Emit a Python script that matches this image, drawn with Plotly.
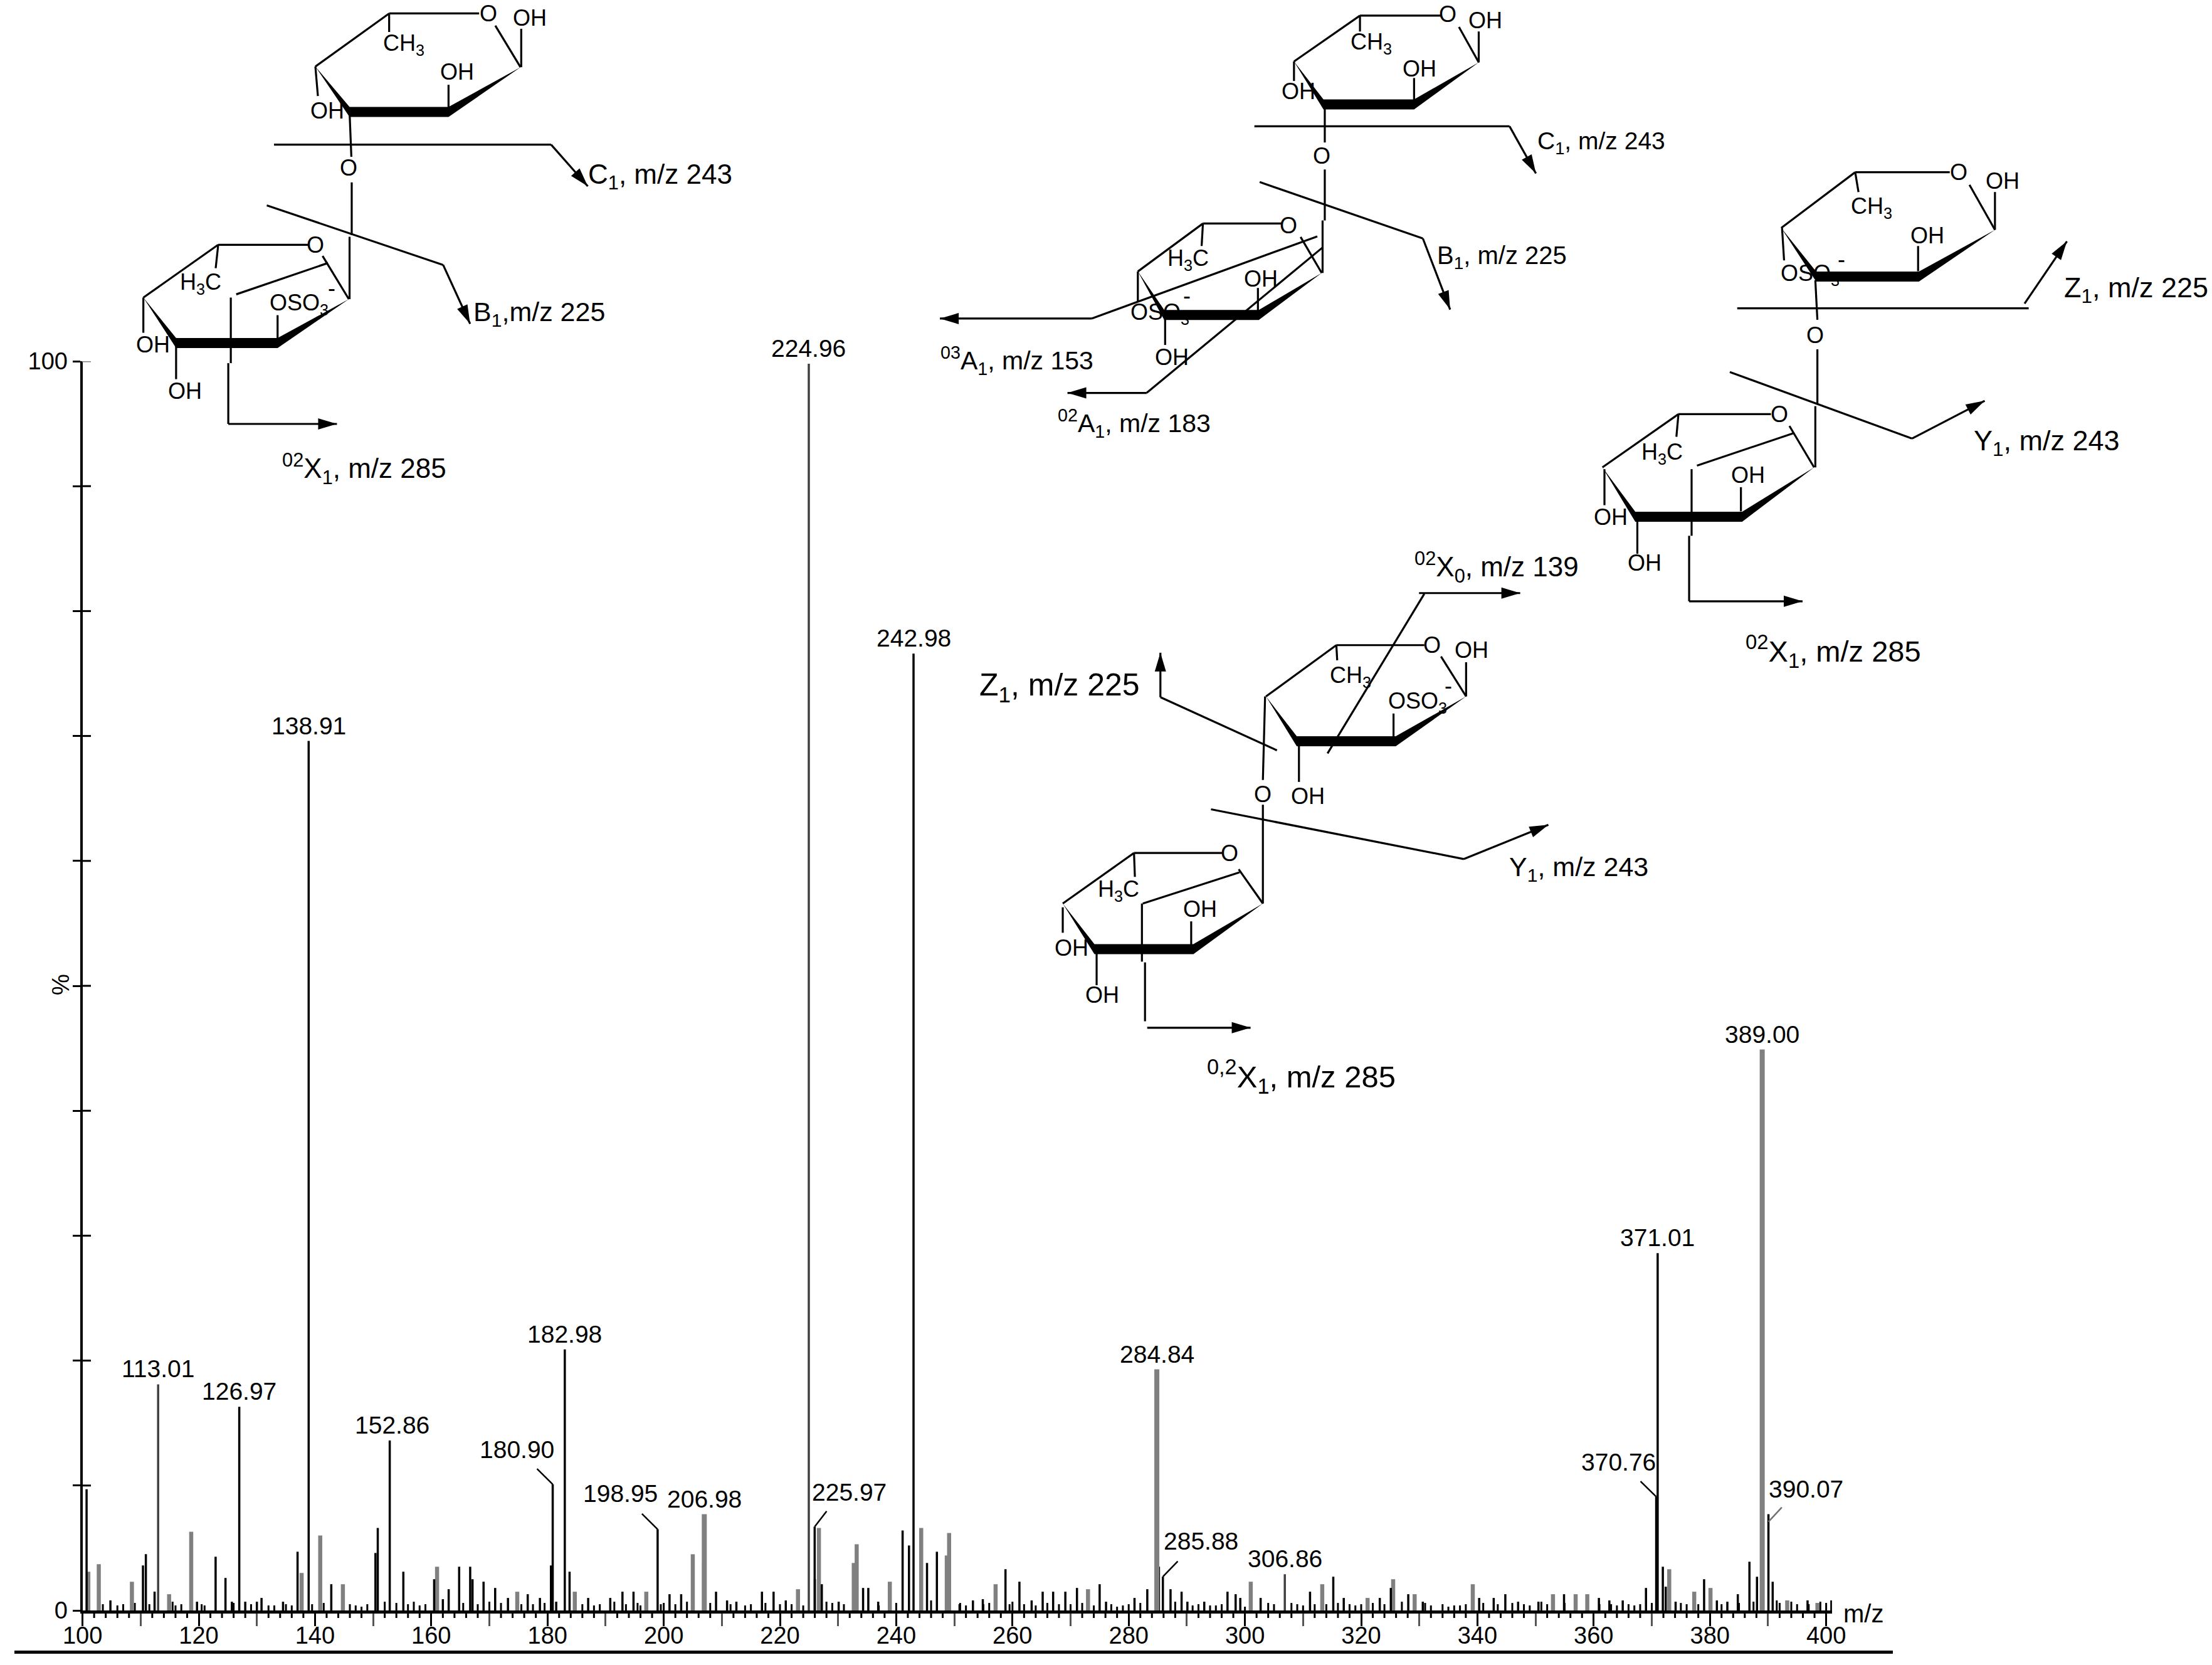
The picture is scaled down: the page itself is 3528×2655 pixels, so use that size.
import plotly.graph_objects as go

W, H = 3528, 2655
FONT = "Liberation Sans"

# ---------- data ----------
labelled_mz  = [113.01, 126.97, 138.91, 152.86, 180.90, 182.98, 198.95, 206.98, 224.96, 225.97,
                242.98, 284.84, 285.88, 306.86, 370.76, 371.01, 389.00, 390.07]
labelled_pct = [18.1, 16.3, 69.6, 13.6, 10.1, 20.9, 6.5, 7.7, 99.8, 6.7,
                76.6, 19.3, 2.7, 2.9, 9.1, 28.6, 44.9, 7.7]
labelled_grey = [113.01, 206.98, 224.96, 284.84, 389.00, 306.86]

black_mz = [100.7, 104.8, 110.4, 110.9, 112.4, 119.7, 122.9, 124.6, 125.7, 128, 130, 130.8, 134.5, 137,
            142.8, 150.4, 150.8, 155.2, 160.5, 162, 163, 164.8, 166.7, 167.1, 169, 171, 173.2, 176.6,
            178.7, 180.6, 181.5, 183.8, 187, 190.8, 192.9, 194.8, 201, 203, 206.8, 209, 210.9, 212.5,
            216.9, 218.9, 221, 226, 227.2, 230.1, 234.3, 235.2, 236.9, 241.1, 242.2, 245.3, 247,
            250.9, 253.2, 254.9, 258.8, 261.2, 263.3, 265.2, 267, 269.1, 271.1, 275, 276.1, 281, 283.2,
            285.2, 287.2, 289.1, 290.1, 293, 297, 298.4, 299.2, 302.7, 311.2, 315.2, 317, 323.2,
            325.1, 328.1, 330.6, 340.3, 342.8, 344.8, 347, 350.5, 354.9, 360.9, 362.7, 365, 369,
            371.9, 372.4, 374.1, 379, 381.2, 383, 384.8, 386.8, 388.1, 390.8, 396.8, 400.9]
black_pct = [9.7, 0.8, 3.6, 4.5, 1.5, 0.7, 4.3, 2.6, 0.7, 0.7, 0.7, 1.0, 0.7, 4.7,
             2.1, 4.6, 6.6, 3.1, 2.5, 0.9, 1.7, 3.5, 3.5, 2.5, 2.3, 1.8, 1.0, 1.3,
             1.0, 3.6, 0.7, 3.1, 1.0, 1.0, 1.5, 1.5, 1.3, 1.3, 3.9, 1.5, 0.8, 0.7,
             1.5, 1.5, 0.8, 2.5, 2.1, 0.7, 1.8, 1.8, 0.7, 6.4, 5.2, 3.8, 4.7,
             0.5, 0.8, 0.9, 3.3, 2.3, 0.8, 1.5, 1.5, 1.5, 1.8, 2.1, 0.7, 1.0, 1.7,
             3.5, 1.7, 1.5, 0.7, 0.7, 1.5, 1.3, 1.0, 1.0, 1.5, 2.7, 1.0, 1.0,
             1.8, 1.3, 0.7, 1.0, 1.0, 1.3, 0.7, 0.7, 1.3, 1.0, 0.8, 0.8, 1.8,
             3.5, 1.9, 0.7, 2.5, 0.8, 0.7, 1.3, 3.9, 2.7, 2.3, 0.8, 0.8]
grey_mz  = [101, 102.8, 108.5, 114.9, 118.7, 137.7, 140.9, 144.8, 161, 174.8, 184.7, 197, 205, 226.7,
            223.1, 232.7, 233.2, 238.9, 244.3, 248.7, 249.1, 257.1, 273, 301, 313.3, 321.1, 325.5, 329.2,
            339.2, 353, 356.9, 358.9, 373, 377.3, 380.1, 393.3, 398.5]
grey_pct = [3.1, 3.7, 2.3, 1.3, 6.3, 3.0, 6.0, 2.1, 3.5, 1.5, 1.5, 1.5, 4.5, 6.6,
            1.7, 3.8, 5.3, 2.3, 6.6, 4.4, 6.2, 2.1, 1.7, 2.3, 2.1, 1.0, 2.5, 1.3,
            2.1, 1.3, 1.3, 1.3, 3.3, 1.5, 1.8, 0.8, 0.6]
grass_mz  = [103.5, 106, 107, 109, 111.5, 115.5, 116, 117, 120.5, 121, 126, 129, 132, 133, 135, 136, 139.5, 141.5,
             146, 147, 148, 149, 152, 154, 156, 157, 158, 159, 165.5, 168, 170, 172, 175.5, 177.5, 179.5,
             186, 188, 189, 191.5, 193.5, 195.5, 196, 199.5, 200, 202, 204, 208, 211.5, 214, 215, 217.5, 220,
             222, 224, 228, 229, 231, 237, 240, 246, 251, 252, 255, 256, 259.5, 260, 262, 264, 266, 268, 270,
             272, 274, 277, 278, 279, 280, 282, 288, 291, 292, 294, 295, 296, 300, 304, 305, 308, 309, 310, 312,
             314, 316, 318, 319, 320, 322, 324, 327, 331, 332, 334, 335, 336, 337, 338, 341, 343.5, 346, 348, 349,
             351, 352, 355, 357, 359, 361, 363, 364, 366, 367, 368, 370, 375, 376, 378, 382, 385, 387.5, 391.5, 392,
             394, 395, 397, 399, 400]
grass_pct = [0.5, 0.4, 0.5, 0.6, 0.5, 0.7, 0.4, 0.5, 0.5, 0.4, 0.6, 0.5, 0.4, 0.4, 0.5, 0.4, 0.5, 0.6,
             0.5, 0.4, 0.3, 0.5, 0.7, 0.6, 0.5, 0.7, 0.4, 0.5, 0.6, 0.5, 0.7, 0.6, 0.5, 0.5, 0.6,
             0.5, 0.4, 0.5, 0.7, 0.5, 0.6, 0.4, 0.5, 0.6, 0.5, 0.7, 0.6, 0.5, 0.4, 0.5, 0.6, 0.5,
             0.5, 0.4, 0.7, 0.6, 0.5, 0.4, 0.6, 0.8, 0.6, 0.4, 0.5, 0.6, 0.5, 0.7, 0.5, 0.4, 0.6, 0.5, 0.5,
             0.6, 0.4, 0.5, 0.3, 0.4, 0.5, 0.6, 0.7, 0.4, 0.5, 0.4, 0.4, 0.5, 0.3, 0.6, 0.5, 0.6, 0.5, 0.4, 0.5,
             0.5, 0.6, 0.5, 0.4, 0.5, 0.6, 0.5, 0.7, 0.6, 0.4, 0.5, 0.3, 0.4, 0.4, 0.5, 0.6, 0.5, 0.6, 0.5, 0.4,
             0.7, 0.5, 0.6, 0.5, 0.5, 0.5, 0.5, 0.4, 0.5, 0.4, 0.5, 0.6, 0.6, 0.5, 0.5, 0.5, 0.6, 0.7, 0.8, 0.6,
             0.7, 0.5, 0.5, 0.7, 0.6]
x_tick_vals = list(range(100, 401, 20))
x_short_ticks = [v for v in range(100, 401, 2) if v % 10 != 0]
y_tick_vals = [0, 100]
y_minor_ticks = list(range(10, 101, 10))

# ---------- label placement (layout only) ----------
label_offset = {152.86: (0.4, 0), 180.90: (-6.2, 1.56), 198.95: (-6.4, 1.65), 225.97: (6.0, 1.55),
                285.88: (6.6, 1.6), 370.76: (-6.5, 1.55), 390.07: (6.5, 0.8)}
leader = {180.90: (-2.7, 1.24, 0, "black"), 198.95: (-2.7, 1.24, 0, "black"), 225.97: (2.06, 1.24, 0, "black"),
          285.88: (2.56, 1.24, 0, "black"), 370.76: (-2.7, 1.24, 0, "black"), 390.07: (2.3, 1.15, -0.6, "#707070")}

X0, PX_PER = 131.6, 9.27
Y0, Y100 = 2568, 576


def stems(mz, pct):
    xs, ys = [], []
    for m, p in zip(mz, pct):
        xs += [m, m, None]
        ys += [0, p, None]
    return xs, ys


fig = go.Figure()
for mz, pct, col, w in [(grass_mz, grass_pct, "black", 3),
                        (grey_mz, grey_pct, "#808080", 6.5),
                        (black_mz, black_pct, "black", 3.5)]:
    xs, ys = stems(mz, pct)
    fig.add_trace(go.Scatter(x=xs, y=ys, mode="lines", line=dict(color=col, width=w), hoverinfo="skip"))

main_black = [(m, p) for m, p in zip(labelled_mz, labelled_pct) if m not in labelled_grey]
for m, p in zip(labelled_mz, labelled_pct):
    if m in labelled_grey:
        wide = m in (284.84, 389.00, 206.98)
        col = "#808080" if wide else "#404040"
        fig.add_trace(go.Scatter(x=[m, m], y=[0, p], mode="lines", line=dict(color=col, width=8 if wide else 3.5), hoverinfo="skip"))
xs, ys = stems([m for m, _ in main_black], [p for _, p in main_black])
fig.add_trace(go.Scatter(x=xs, y=ys, mode="lines", line=dict(color="black", width=3.5), hoverinfo="skip"))

annos, shapes = [], []

for m, p in zip(labelled_mz, labelled_pct):
    dx, dy = label_offset.get(m, (0, 0))
    annos.append(dict(x=m + dx, y=p + dy, xref="x", yref="y", text=f"{m:.2f}", showarrow=False, xanchor="center",
                      yanchor="bottom", yshift=0, borderpad=2, font=dict(family=FONT, size=39, color="black")))
    if m in leader:
        lx, ly, base, col = leader[m]
        fig.add_trace(go.Scatter(x=[m + lx, m], y=[p + base + ly, p + base], mode="lines",
                                 line=dict(color=col, width=2.5), hoverinfo="skip"))

# y axis cross ticks (right half), drawn on the value scale
for v in y_minor_ticks:
    shapes.append(dict(type="line", xref="paper", yref="y", x0=131 / W, x1=145 / W, y0=v, y1=v,
                       line=dict(color="#808080" if v == 100 else "black", width=3)))
# short ticks below the m/z axis, drawn on the m/z scale
for v in x_short_ticks:
    shapes.append(dict(type="line", xref="x", yref="paper", x0=v, x1=v, y0=1 - Y0 / H, y1=1 - (Y0 + 12) / H,
                       line=dict(color="black", width=3)))


# ---------- helpers for the structure drawings ----------
def px(x, y):
    return x / W, 1 - y / H


def line_px(a, b, w=3.2):
    x0, y0 = px(*a)
    x1, y1 = px(*b)
    shapes.append(dict(type="line", xref="paper", yref="paper", x0=x0, y0=y0, x1=x1, y1=y1,
                       line=dict(color="black", width=w)))


def poly_px(pts):
    d = "M " + " L ".join(f"{x/W:.5f} {1-y/H:.5f}" for x, y in pts) + " Z"
    shapes.append(dict(type="path", xref="paper", yref="paper", path=d, fillcolor="black", line=dict(width=0)))


def text_px(s, x, y, size=34, anchor="center"):
    ax, ay = px(x, y)
    annos.append(dict(x=ax, y=ay, xref="paper", yref="paper", text=s, showarrow=False, xanchor=anchor,
                      yanchor="middle", yshift=-3 if size > 38 else 0,
                      font=dict(family=FONT, size=size, color="black")))


class Crop:
    def __init__(self, ox, oy, w, h):
        self.ox, self.oy, self.sx, self.sy = ox, oy, 1568 / w, 1568 / h

    def p(self, q):
        return self.ox + q[0] / self.sx, self.oy + q[1] / self.sy

    def lines(self, items):
        for a, b in items:
            line_px(self.p(a), self.p(b))

    def arrow(self, a, b):
        A, B = self.p(a), self.p(b)
        line_px(A, B)
        dx, dy = B[0] - A[0], B[1] - A[1]
        n = (dx * dx + dy * dy) ** 0.5
        ux, uy = dx / n, dy / n
        L, t = 30, 9
        poly_px([B, (B[0] - ux * L - uy * t, B[1] - uy * L + ux * t), (B[0] - ux * L + uy * t, B[1] - uy * L - ux * t)])

    def ring(self, a, b, c, d, t=8):
        A, B, C, D = map(self.p, (a, b, c, d))
        poly_px([A, (B[0], B[1] - t), (C[0], C[1] - t), D, (C[0], C[1] + t), (B[0], B[1] + t)])

    def text(self, s, q, size=36, anchor="center"):
        P = self.p(q)
        text_px(s, P[0], P[1], size, anchor)


CH3 = "CH<sub>3</sub>"
H3C = "H<sub>3</sub>C"
OSO3 = "OSO<sub>3</sub>"

# structure 1
c = Crop(150, 0, 900, 800)
c.lines([((820, 42), (1070, 42)), ((820, 42), (615, 208)), ((1115, 80), (1185, 210)), ((1187, 90), (1187, 210)),
         ((820, 42), (820, 100)), ((615, 208), (622, 300)), ((985, 265), (985, 340)), ((710, 350), (715, 490)),
         ((500, 452), (1270, 452)), ((716, 570), (716, 735)), ((480, 642), (970, 828)), ((710, 740), (710, 935)),
         ((345, 765), (595, 765)), ((345, 765), (137, 930)), ((345, 765), (338, 838)), ((635, 800), (708, 935)),
         ((137, 930), (137, 1040)), ((228, 1072), (228, 1185)), ((510, 985), (510, 1060)), ((650, 822), (395, 920)),
         ((380, 930), (380, 1135)), ((373, 1135), (373, 1325))])
c.ring((615, 208), (710, 350), (985, 350), (1185, 210))
c.ring((137, 930), (228, 1072), (510, 1072), (708, 935))
c.arrow((1270, 452), (1372, 582))
c.arrow((970, 828), (1045, 1012))
c.arrow((373, 1325), (675, 1325))
for s, q in [("O", (1095, 42)), ("OH", (1210, 55)), (CH3, (860, 140)), ("OH", (1008, 225)), ("OH", (648, 345)),
             ("O", (708, 525)), ("O", (615, 765)), (H3C, (297, 885)), (OSO3, (570, 950)), ("-", (660, 900)),
             ("OH", (163, 1078)), ("OH", (252, 1222))]:
    c.text(s, q)
c.text("C<sub>1</sub>, m/z 243", (1370, 545), 44, "left")
c.text("B<sub>1</sub>,m/z 225", (1050, 975), 43, "left")
c.text("<sup>02</sup>X<sub>1</sub>, m/z 285", (520, 1460), 44, "left")

# structure 2
c = Crop(1450, 0, 1100, 750)
c.lines([((1025, 52), (1210, 52)), ((1025, 52), (875, 205)), ((1025, 52), (1025, 105)), ((1250, 90), (1295, 208)),
         ((1295, 105), (1295, 208)), ((875, 205), (875, 270)), ((1148, 260), (1148, 335)), ((945, 348), (945, 475)),
         ((785, 421), (1365, 421)), ((945, 565), (945, 735)), ((797, 607), (1168, 795)), ((940, 735), (940, 910)),
         ((668, 745), (848, 745)), ((668, 745), (520, 905)), ((668, 745), (665, 820)), ((890, 790), (938, 910)),
         ((520, 905), (520, 1005)), ((582, 1050), (582, 1150)), ((793, 960), (793, 1040)),
         ((928, 788), (415, 1062)), ((940, 825), (540, 1310))])
c.ring((875, 205), (942, 348), (1148, 348), (1295, 208))
c.ring((520, 905), (580, 1050), (795, 1050), (938, 910))
c.arrow((1365, 421), (1425, 578))
c.arrow((1168, 795), (1230, 1032))
c.arrow((415, 1062), (70, 1062))
c.arrow((540, 1310), (360, 1310))
for s, q in [("O", (1225, 48)), ("OH", (1310, 68)), (CH3, (1050, 145)), ("OH", (1160, 228)), ("OH", (885, 305)),
             ("O", (938, 520)), ("O", (862, 752)), (H3C, (635, 865)), ("OH", (800, 930)), (OSO3, (570, 1045)),
             ("-", (632, 985)), ("OH", (597, 1190))]:
    c.text(s, q)
c.text("C<sub>1</sub>, m/z 243", (1425, 470), 39, "left")
c.text("B<sub>1</sub>, m/z 225", (1198, 850), 40, "left")
c.text("<sup>03</sup>A<sub>1</sub>, m/z 153", (68, 1195), 41, "left")
c.text("<sup>02</sup>A<sub>1</sub>, m/z 183", (335, 1405), 41, "left")

# structure 3
c = Crop(2500, 200, 1028, 900)
c.lines([((700, 130), (930, 130)), ((700, 130), (520, 285)), ((700, 130), (708, 185)), ((978, 165), (1040, 290)),
         ((1040, 185), (1040, 290)), ((522, 285), (527, 375)), ((853, 335), (853, 405)), ((603, 430), (608, 540)),
         ((413, 508), (1122, 508)), ((608, 622), (608, 775)), ((395, 685), (838, 870)), ((603, 780), (603, 950)),
         ((270, 802), (495, 802)), ((270, 802), (85, 950)), ((270, 802), (265, 865)), ((540, 835), (600, 950)),
         ((90, 955), (90, 1055)), ((170, 1100), (170, 1190)), ((422, 1005), (422, 1072)), ((550, 855), (315, 945)),
         ((302, 955), (302, 1140)), ((296, 1140), (296, 1322))])
c.ring((520, 285), (605, 420), (855, 420), (1040, 290))
c.ring((85, 950), (165, 1087), (425, 1087), (600, 950))
c.arrow((1112, 495), (1215, 322))
c.arrow((838, 870), (1015, 765))
c.arrow((296, 1322), (572, 1322))
for s, q in [("O", (952, 130)), ("OH", (1058, 155)), (CH3, (740, 228)), ("OH", (875, 305)), (OSO3, (590, 415)),
             ("-", (667, 372)), ("O", (602, 582)), ("O", (515, 802)), (H3C, (230, 912)), ("OH", (440, 972)),
             ("OH", (105, 1088)), ("OH", (187, 1215))]:
    c.text(s, q)
c.text("Z<sub>1</sub>, m/z 225", (1205, 450), 45, "left")
c.text("Y<sub>1</sub>, m/z 243", (985, 875), 45, "left")
c.text("<sup>02</sup>X<sub>1</sub>, m/z 285", (430, 1455), 47, "left")

# structure 4
c = Crop(1500, 850, 1100, 950)
c.lines([((900, 295), (1100, 295)), ((900, 295), (740, 430)), ((900, 295), (902, 335)), ((1138, 325), (1195, 430)),
         ((1195, 340), (1195, 430)), ((738, 430), (733, 650)), ((1030, 475), (1030, 535)), ((815, 560), (815, 655)),
         ((500, 432), (765, 572)), ((1100, 160), (880, 580)), ((733, 715), (733, 975)), ((615, 727), (1190, 858)),
         ((440, 842), (640, 842)), ((440, 842), (278, 975)), ((440, 842), (442, 905)), ((678, 885), (733, 975)),
         ((278, 985), (278, 1052)), ((355, 1105), (355, 1190)), ((570, 1022), (570, 1085)), ((680, 893), (460, 975)),
         ((458, 975), (458, 1128)), ((465, 1130), (465, 1285))])
c.ring((740, 430), (810, 548), (1035, 548), (1195, 430))
c.ring((278, 975), (350, 1095), (575, 1095), (733, 975))
c.arrow((500, 432), (500, 315))
c.arrow((1088, 158), (1318, 158))
c.arrow((1190, 858), (1382, 768))
c.arrow((470, 1302), (705, 1302))
for s, q in [("O", (1118, 295)), ("OH", (1208, 308)), (CH3, (932, 378)), (OSO3, (1085, 445)), ("-", (1155, 402)),
             ("OH", (835, 692)), ("O", (733, 688)), ("O", (657, 842)), (H3C, (405, 940)), ("OH", (590, 990)),
             ("OH", (298, 1092)), ("OH", (368, 1215))]:
    c.text(s, q)
c.text("Z<sub>1</sub>, m/z 225", (85, 400), 50, "left")
c.text("<sup>02</sup>X<sub>0</sub>, m/z 139", (1075, 85), 44, "left")
c.text("Y<sub>1</sub>, m/z 243", (1290, 878), 43, "left")
c.text("<sup>0,2</sup>X<sub>1</sub>, m/z 285", (603, 1425), 49, "left")

# axis furniture
text_px("m/z", 2972, 2570, 40)
text_px("%", 97, 1570, 38)
annos[-1]["textangle"] = -90
line_px((23, 2634.5), (3019, 2634.5), 5)

fig.update_layout(
    width=W, height=H, margin=dict(l=0, r=0, t=0, b=0, autoexpand=False), showlegend=False,
    template="none", paper_bgcolor="white", plot_bgcolor="white", hovermode=False,
    annotations=annos, shapes=shapes,
    xaxis=dict(range=[100, 401], domain=[X0 / W, (X0 + 301 * PX_PER) / W], showgrid=False, zeroline=False, automargin=False,
               showline=True, linecolor="black", linewidth=5, ticks="outside", ticklen=20, tickwidth=3, tickcolor="black",
               tickvals=x_tick_vals, ticktext=[str(v) for v in x_tick_vals], ticklabelstandoff=-18,
               tickangle=0, tickfont=dict(family=FONT, size=38, color="black"),
               minor=dict(dtick=10, tick0=100, ticks="outside", ticklen=20, tickwidth=3, tickcolor="#555555", showgrid=False)),
    yaxis=dict(range=[0, 100], domain=[1 - Y0 / H, 1 - Y100 / H], showgrid=False, zeroline=False, automargin=False,
               showline=True, linecolor="black", linewidth=4, ticks="outside", ticklen=12, tickwidth=3, tickcolor="black",
               tickvals=y_tick_vals, ticktext=[str(v) for v in y_tick_vals],
               tickfont=dict(family=FONT, size=38, color="black"),
               minor=dict(dtick=10, tick0=0, ticks="outside", ticklen=12, tickwidth=3, tickcolor="black", showgrid=False)),
)

fig.write_html("out.html", post_script="document.body.style.margin='0';", config={"displayModeBar": False})
